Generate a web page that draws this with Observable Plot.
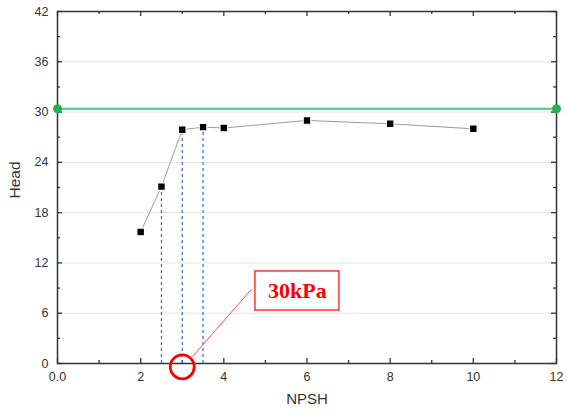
<!DOCTYPE html>
<html>
<head>
<meta charset="utf-8">
<script src="https://cdn.jsdelivr.net/npm/d3@7"></script>
<script src="https://cdn.jsdelivr.net/npm/@observablehq/plot@0.6"></script>
<style>
  html, body { margin: 0; padding: 0; background: #fff; }
  #chart svg { display: block; }
</style>
</head>
<body>
<div id="chart"></div>
<script>
// Data
const npsh = [2, 2.5, 3, 3.5, 4, 6, 8, 10];
const head = [15.7, 21.1, 27.9, 28.2, 28.1, 29.0, 28.6, 28.0];
const dropNpsh = [2.5, 3, 3.5];          // vertical dashed guides
const refHead = 30.4;                    // green reference line
const refEnds = [0, 12];
const xMajor = [0, 2, 4, 6, 8, 10, 12];
const xMinor = [1, 3, 5, 7, 9, 11];
const yMajor = [0, 6, 12, 18, 24, 30, 36, 42];
const yMinor = [3, 9, 15, 21, 27, 33, 39];
const yGrid = [6, 12, 18, 24, 30, 36];
const noteText = "30kPa";
const noteCircle = {x: 3, y: -0.4};
const noteLink = {x1: 3.25, y1: 0.84, x2: 4.66, y2: 8.83};
const noteBox = {x1: 4.76, x2: 6.78, y1: 6.32, y2: 10.98};

const pts = npsh.map((x, i) => ({x, y: head[i]}));
const drops = dropNpsh.map(x => ({x, y: head[npsh.indexOf(x)]}));

const font = "Arial, 'Liberation Sans', sans-serif";
const axisColor = "#333";

const chart = Plot.plot({
  width: 567,
  height: 413,
  marginLeft: 57,
  marginRight: 11,
  marginTop: 11,
  marginBottom: 50,
  style: {fontFamily: font, fontSize: "12px", color: axisColor, background: "#fff"},
  x: {domain: [0, 12]},
  y: {domain: [0, 42]},
  marks: [
    Plot.ruleY(yGrid, {y: d => d, stroke: "#e6e6e6", strokeWidth: 1}),
    Plot.axisX(xMajor, {tickSize: 0, tickPadding: 9, label: null, fontSize: 12.5, fill: axisColor,
      tickFormat: d => d === 0 ? "0.0" : String(d)}),
    Plot.axisY(yMajor, {tickSize: 0, tickPadding: 9, label: null, fontSize: 12.5, fill: axisColor}),
    // inward ticks on all four sides
    Plot.ruleX(xMajor, {x: d => d, y1: 0, y2: 0, insetTop: -5, stroke: axisColor, strokeWidth: 1.3}),
    Plot.ruleX(xMinor, {x: d => d, y1: 0, y2: 0, insetTop: -3, stroke: axisColor, strokeWidth: 1.3}),
    Plot.ruleX(xMajor, {x: d => d, y1: 42, y2: 42, insetBottom: -5, stroke: axisColor, strokeWidth: 1.3}),
    Plot.ruleX(xMinor, {x: d => d, y1: 42, y2: 42, insetBottom: -3, stroke: axisColor, strokeWidth: 1.3}),
    Plot.ruleY(yMajor, {y: d => d, x1: 0, x2: 0, insetRight: -5, stroke: axisColor, strokeWidth: 1.3}),
    Plot.ruleY(yMinor, {y: d => d, x1: 0, x2: 0, insetRight: -3, stroke: axisColor, strokeWidth: 1.3}),
    Plot.ruleY(yMajor, {y: d => d, x1: 12, x2: 12, insetLeft: -5, stroke: axisColor, strokeWidth: 1.3}),
    Plot.ruleY(yMinor, {y: d => d, x1: 12, x2: 12, insetLeft: -3, stroke: axisColor, strokeWidth: 1.3}),
    Plot.frame({stroke: axisColor, strokeWidth: 1.5}),
    // reference line
    Plot.ruleY([refHead], {stroke: "#55c585", strokeWidth: 2}),
    Plot.dot(refEnds, {x: d => d, y: refHead, r: 4.5, fill: "#22b24f"}),
    // dashed guides
    Plot.ruleX(drops, {x: "x", y1: 0, y2: "y", stroke: "#3b63d6", strokeWidth: 1.2, strokeDasharray: "3,3"}),
    // data
    Plot.line(pts, {x: "x", y: "y", stroke: "#9a9a9a", strokeWidth: 1}),
    Plot.dot(pts, {x: "x", y: "y", symbol: "square", r: 4.3, fill: "#000", stroke: "#fff", strokeWidth: 1.2}),
    // annotation
    Plot.link([noteLink], {x1: "x1", y1: "y1", x2: "x2", y2: "y2", stroke: "#ff4d4d", strokeWidth: 1}),
    Plot.dot([noteCircle], {x: "x", y: "y", r: 12, stroke: "#ff0000", strokeWidth: 2.8, fill: "none"}),
    Plot.rect([noteBox], {x1: "x1", x2: "x2", y1: "y1", y2: "y2", fill: "#fff", stroke: "#ff3333", strokeWidth: 1.5}),
    Plot.text([noteText], {x: (noteBox.x1 + noteBox.x2) / 2, y: (noteBox.y1 + noteBox.y2) / 2, text: d => d,
      fill: "#ff0000", fontSize: 22, fontWeight: "bold", fontFamily: "'Times New Roman', 'Liberation Serif', serif",
      textAnchor: "middle", lineAnchor: "middle"}),
    // axis titles
    Plot.text(["Head"], {frameAnchor: "left", dx: -42, dy: 11, rotate: -90, text: d => d, fontSize: 15.5, fill: axisColor}),
    Plot.text(["NPSH"], {frameAnchor: "bottom", dy: 40, text: d => d, fontSize: 15, fill: axisColor})
  ]
});
document.getElementById("chart").appendChild(chart);
</script>
</body>
</html>
